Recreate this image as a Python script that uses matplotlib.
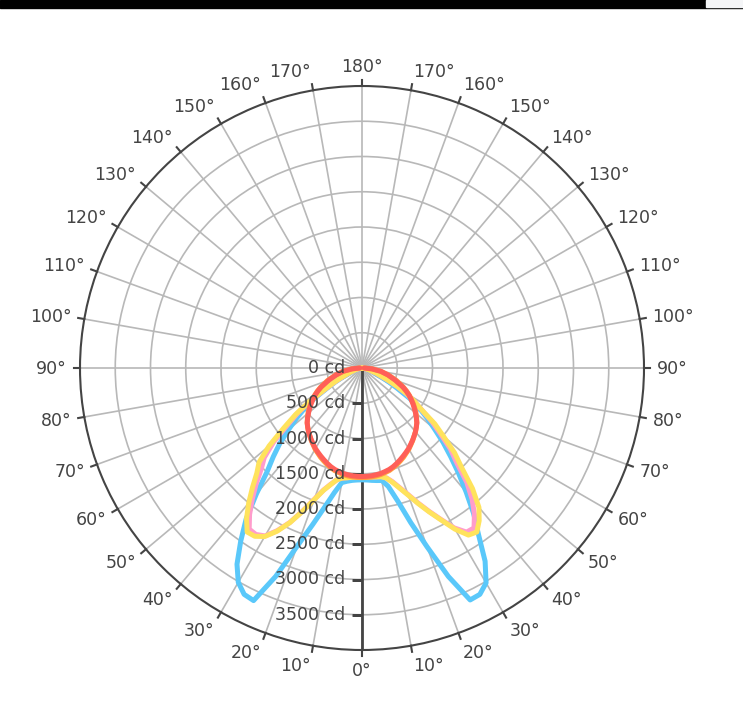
import numpy as np
import matplotlib.pyplot as plt
from matplotlib.patches import Rectangle

# polar angle (deg) measured from nadir, same set for every half-plane
angles = [0, 2.5, 5, 7.5, 10, 12.5, 15, 17.5, 20, 22.5, 25, 27.5, 30, 32.5, 35, 37.5,
          40, 42.5, 45, 47.5, 50, 52.5, 55, 57.5, 60, 62.5, 65, 70, 75, 80, 85, 90]

# intensity in cd, right half / left half of each plane
blue_right = [1586, 1590, 1600, 1610, 1620, 1720, 1950, 2300, 2700, 3200, 3630, 3620, 3520, 3250, 2880, 2600,
              2300, 2030, 1780, 1560, 1340, 1160, 990, 800, 580, 430, 310, 160, 70, 30, 10, 0]
blue_left = [1586, 1590, 1600, 1620, 1650, 1810, 2040, 2330, 2690, 3200, 3640, 3620, 3510, 3300, 3000, 2700,
             2330, 1990, 1780, 1580, 1360, 1170, 990, 790, 570, 420, 300, 150, 70, 30, 10, 0]

pink_right = [1545, 1548, 1552, 1558, 1565, 1595, 1670, 1780, 1910, 2070, 2240, 2420, 2620, 2760, 2770, 2620,
              2430, 2200, 1900, 1700, 1450, 1250, 1030, 870, 720, 550, 400, 210, 100, 40, 15, 0]
pink_left = [1545, 1548, 1555, 1570, 1585, 1620, 1705, 1815, 1985, 2195, 2415, 2600, 2750, 2800, 2790, 2620,
             2420, 2220, 2020, 1880, 1640, 1340, 1110, 860, 610, 450, 330, 180, 90, 40, 15, 0]

yellow_right = [1545, 1548, 1552, 1558, 1565, 1600, 1680, 1790, 1920, 2080, 2250, 2430, 2640, 2810, 2840, 2730,
                2580, 2320, 2000, 1780, 1510, 1300, 1030, 880, 740, 560, 400, 220, 100, 40, 15, 0]
yellow_left = [1545, 1548, 1555, 1570, 1585, 1620, 1710, 1820, 1990, 2200, 2420, 2610, 2760, 2830, 2840, 2690,
               2500, 2300, 2110, 1980, 1720, 1400, 1150, 880, 620, 460, 340, 180, 90, 40, 15, 0]

orange_right = [1555, 1554, 1550, 1545, 1535, 1520, 1505, 1480, 1455, 1425, 1395, 1360, 1330, 1290, 1255, 1215,
                1180, 1140, 1100, 1050, 1000, 945, 890, 830, 775, 715, 650, 520, 390, 275, 150, 35]
orange_left = [1555, 1554, 1550, 1545, 1535, 1520, 1505, 1480, 1455, 1425, 1395, 1360, 1330, 1290, 1255, 1215,
               1180, 1140, 1100, 1050, 1000, 945, 890, 830, 775, 715, 650, 520, 390, 275, 150, 35]

red_right = [1540, 1538, 1535, 1528, 1520, 1505, 1490, 1468, 1440, 1410, 1380, 1350, 1320, 1285, 1250, 1215,
             1180, 1140, 1100, 1045, 990, 935, 880, 825, 770, 705, 640, 500, 380, 270, 140, 30]
red_left = [1540, 1538, 1535, 1528, 1520, 1505, 1490, 1468, 1440, 1410, 1380, 1350, 1320, 1285, 1250, 1215,
            1180, 1140, 1100, 1045, 990, 935, 880, 825, 770, 705, 640, 500, 380, 270, 140, 30]

r_ticks = [0, 500, 1000, 1500, 2000, 2500, 3000, 3500]
r_max = 4000
theta_labels = list(range(0, 360, 10))

series = [
    (blue_left, blue_right, '#5ac8fa'),
    (pink_left, pink_right, '#ff9ccc'),
    (yellow_left, yellow_right, '#ffe35c'),
    (orange_left, orange_right, '#ffa040'),
    (red_left, red_right, '#ff5f58'),
]

text_col = '#444444'
W, H = 743, 719
fig = plt.figure(figsize=(W / 100, H / 100), dpi=100)
ax = fig.add_axes([80 / W, 69 / H, 564 / W, 564 / H], projection='polar')
ax.set_theta_zero_location('S')
ax.set_theta_direction(1)
ax.set_ylim(0, r_max)

ax.set_xticks(np.deg2rad(theta_labels))
ax.set_xticklabels([])
ax.set_yticks(r_ticks[1:])
ax.set_yticklabels([])
ax.tick_params(axis='both', length=0)
ax.grid(color='#b8b8b8', lw=1.2)
ax.spines['polar'].set_color(text_col)
ax.spines['polar'].set_linewidth(1.5)

# radial axis along 0 deg
ax.plot([0, 0], [0, r_max], color=text_col, lw=2, zorder=3)
ax.plot(np.zeros(len(r_ticks) - 1), r_ticks[1:], ls='none', marker=[(-1, 0), (0, 0)],
        ms=14, mec=text_col, mew=2, zorder=3)

a = np.array(angles)
for left, right, col in series:
    th = np.deg2rad(np.concatenate([-a[::-1], a[1:]]))
    r = np.concatenate([np.array(left)[::-1], np.array(right)[1:]])
    ax.plot(th, r, color=col, lw=3.6, zorder=4, solid_capstyle='round', solid_joinstyle='round')

for v in r_ticks:
    ax.annotate(f'{v} cd', xy=(0, v), xytext=(-17, 0), textcoords='offset pixels',
                ha='right', va='center', fontsize=12.5, color=text_col, zorder=5)

for t in theta_labels:
    lab = t if t <= 180 else 360 - t
    rad = np.deg2rad(t)
    # outward tick on the rim
    ax.plot([rad, rad], [r_max, r_max * 1.022], color=text_col, lw=1.5, clip_on=False)
    dx = np.sin(rad)
    dy = -np.cos(rad)
    ha = 'left' if dx > 0.1 else ('right' if dx < -0.1 else 'center')
    ax.annotate(f'{lab}°', xy=(rad, r_max), xytext=(13 * dx, 20 * dy - 1), textcoords='offset pixels',
                ha=ha, va='center', fontsize=12.5, color=text_col, annotation_clip=False)

# screenshot strip at the top
fig.patches.append(Rectangle((0, 1 - 8 / H), 1, 8 / H, transform=fig.transFigure, color='black'))
fig.patches.append(Rectangle((706 / W, 1 - 7 / H), 37 / W, 7 / H, transform=fig.transFigure, color='#f4f5f7'))

fig.savefig('out.png', dpi=100)
